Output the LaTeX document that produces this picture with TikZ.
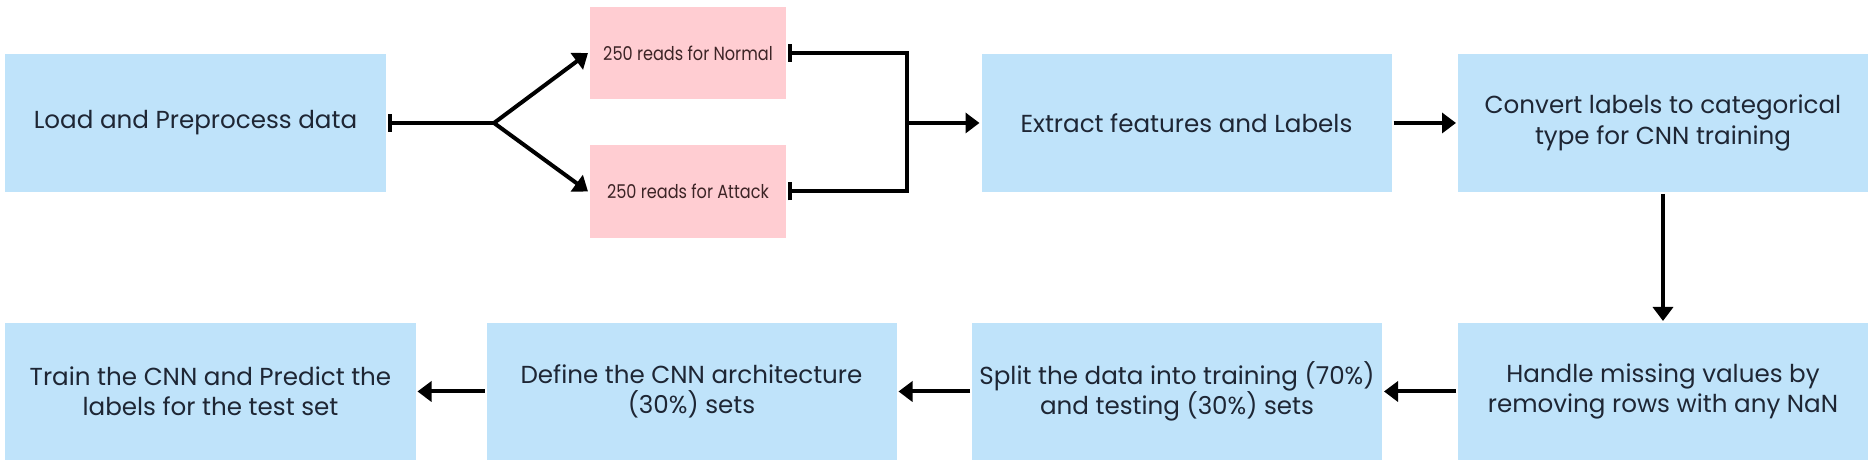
\documentclass[tikz,border=0pt]{standalone}
\usepackage{fontspec}
\setmainfont{Poppins}
\newfontfamily\readfont[FakeStretch=0.85]{Poppins}
\usetikzlibrary{arrows.meta}
\definecolor{stepblue}{RGB}{191,227,250}
\definecolor{readpink}{RGB}{255,205,210}
\definecolor{stepink}{RGB}{30,38,52}
\definecolor{readink}{RGB}{60,36,38}

\begin{document}
\begin{tikzpicture}[line width=0.04cm,
    stepbox/.style={fill=stepblue,text=stepink,minimum width=4.1cm,minimum height=1.38cm,
      inner sep=0pt,align=center,font=\fontsize{7}{8.6}\selectfont},
    readbox/.style={fill=readpink,text=readink,minimum width=1.96cm,minimum height=0.92cm,
      inner sep=0pt,font=\readfont\fontsize{5.4}{7}\selectfont},
    flow/.style={-{Triangle[width=0.2cm,length=0.14cm]}},
    tee/.style={{Bar[width=0.18cm]}-}]
    \useasboundingbox (0,0) rectangle (18.75,-4.66);
    % top row
    \node[stepbox,minimum width=3.81cm] (load)    at (1.955,-1.23) {Load and Preprocess data};
    \node[readbox]                      (normal)  at (6.88,-0.53)  {250 reads for Normal};
    \node[readbox,minimum height=0.93cm] (attack) at (6.88,-1.915) {250 reads for Attack};
    \node[stepbox]                      (extract) at (11.865,-1.23) {Extract features and Labels};
    \node[stepbox]                      (convert) at (16.63,-1.23) {Convert labels to categorical\\type for CNN training};
    % bottom row
    \node[stepbox,minimum height=1.37cm] (handle) at (16.63,-3.915) {Handle missing values by\\removing rows with any NaN};
    \node[stepbox,minimum height=1.37cm] (split)  at (11.77,-3.915) {Split the data into training (70\%)\\and testing (30\%) sets};
    \node[stepbox,minimum height=1.37cm] (define) at (6.915,-3.915) {Define the CNN architecture\\(30\%) sets};
    \node[stepbox,minimum height=1.37cm] (train)  at (2.105,-3.915) {Train the CNN and Predict the\\labels for the test set};
    \coordinate (fork)  at (4.94,-1.23);
    \coordinate (merge) at (9.07,-1.23);
    % connectors
    \draw[tee] (load.east) -- (fork);
    \draw[flow] (fork) -- (normal.west);
    \draw[flow] (fork) -- (attack.west);
    \draw[{Bar[width=0.18cm]}-{Bar[width=0.18cm]}] (normal.east) -| (merge) |- (attack.east);
    \draw[flow] (merge) -- (extract.west);
    \draw[flow] (extract) -- (convert);
    \draw[flow] (convert) -- (handle);
    \draw[flow] (handle) -- (split);
    \draw[flow] (split) -- (define);
    \draw[flow] (define) -- (train);
\end{tikzpicture}
\end{document}
